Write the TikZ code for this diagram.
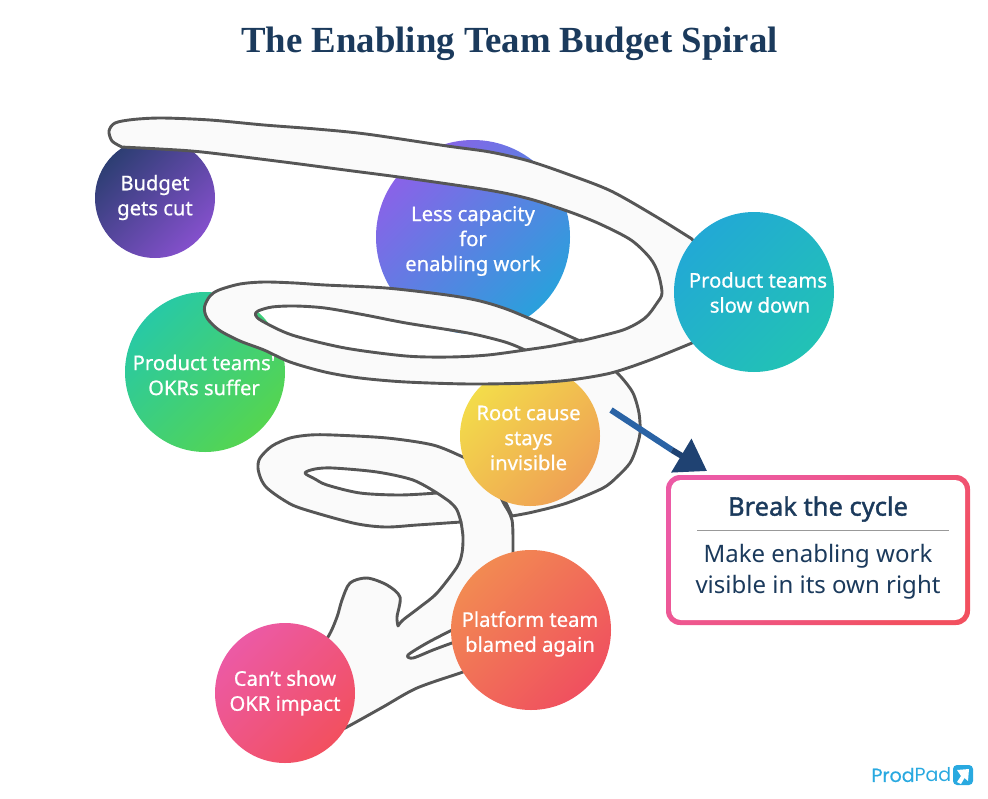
\documentclass[tikz,border=0pt]{standalone}
\usepackage{fontspec}
\setmainfont{Noto Sans}
\newfontfamily\titlefont{Liberation Serif}
\newfontfamily\logofont{Poppins}
\newfontfamily\logoheavy[FakeBold=0.5]{Poppins}
\newfontfamily\nodefont[FakeBold=0.7]{Noto Sans}
\newfontfamily\headfont[FakeBold=1.6]{Noto Sans}
\usetikzlibrary{arrows.meta}
\definecolor{ribbonfill}{HTML}{FAFAFA}
\definecolor{ribbonline}{HTML}{565656}
\definecolor{titleblue}{HTML}{1B3A5C}
\definecolor{logoblue}{HTML}{29A9E0}
\definecolor{budgetstart}{HTML}{2D3E73}
\definecolor{budgetend}{HTML}{8450CC}
\definecolor{capstart}{HTML}{8A62E8}
\definecolor{capend}{HTML}{2AA0DC}
\definecolor{okrstart}{HTML}{28C9A5}
\definecolor{okrend}{HTML}{55D550}
\definecolor{rootstart}{HTML}{F3DC4A}
\definecolor{rootend}{HTML}{EFA055}
\definecolor{platstart}{HTML}{F28A52}
\definecolor{platend}{HTML}{F0505F}
\definecolor{boxstart}{HTML}{EC5AA5}
\definecolor{boxend}{HTML}{F2505F}
\definecolor{slowstart}{HTML}{22A9D5}
\definecolor{slowend}{HTML}{22C2B5}
\definecolor{arrowstartcol}{HTML}{2A63A5}
\definecolor{arrowendcol}{HTML}{1F4272}
\tikzset{
	spiralnode/.style={circle,inner sep=0pt},
	spiraltext/.style={inner sep=0pt,text=white,align=center,
	font=\nodefont\fontsize{20.2}{25}\selectfont},
	ribbon/.style={fill=ribbonfill,draw=ribbonline,line width=2.9pt,line join=round,even odd rule},
	ribbonedge/.style={draw=ribbonline,line width=2.9pt,line cap=round}
}
\begin{document}
\begin{tikzpicture}[x=1pt,y=-1pt]
	\useasboundingbox (0,0) rectangle (988,798);
	\node[font=\titlefont\bfseries\fontsize{36.8}{40}\selectfont,text=titleblue] (title) at (509.5,43.5) {The Enabling Team Budget Spiral};
	\node[spiralnode,minimum size=120pt,left color=budgetstart,right color=budgetend,shading angle=45] (budget) at (155,198) {};
	\node[spiraltext] (budgettext) at (155,197.5) {Budget\\gets cut};
	\node[spiralnode,minimum size=194pt,left color=capstart,right color=capend,shading angle=45] (capacity) at (473,237) {};
	\node[spiraltext] (capacitytext) at (473,241) {Less capacity\\for\\enabling work};
	\node[spiralnode,minimum size=160pt,left color=okrstart,right color=okrend,shading angle=45] (okrs) at (205,372) {};
	\node[spiraltext] (okrstext) at (204,375) {Product teams'\\OKRs suffer};
	\path[ribbon] plot[smooth] coordinates {(612,368) (622,378) (633,393) (639,413) (640,433) (636,449) (630,463) (618,476) (603,488) (567,503) (533,512) (512,516)}
	-- (500,490) -- (530,400) -- (530,370) -- (590,360) -- cycle;
	\path[ribbon] plot[smooth] coordinates {(480,465) (463,457) (433,445) (387,438) (333,435) (310,435) (290,438) (272,446) (260,458) (258,468) (261,479) (267,488) (282,499) (300,508) (353,523) (385,527) (417,525) (461,522)}
	-- plot[smooth] coordinates {(461,522) (463,537) (462,553) (457,567) (437,593) (420,607) (403,620) (398,626)}
	-- plot[smooth] coordinates {(398,626) (397,617) (400,597) (387,585) (367,578) (350,583) (342,600) (337,617) (328,637) (310,660)}
	-- plot[smooth] coordinates {(330,735) (347,727) (383,707) (417,688) (463,672) (480,665)}
	-- plot[smooth] coordinates {(513,575) (513,552) (512,520) (503,502) (495,485)} -- cycle
	plot[smooth] coordinates {(437,493) (413,480) (377,472) (333,468) (315,469) (305,473) (315,479) (327,485) (360,493) (400,495) (437,493)} -- cycle
	plot[smooth] coordinates {(460,626) (452,630) (427,643) (408,655) (413,658) (433,650) (452,643) (460,641)} -- cycle;
	\draw[ribbonedge] plot[smooth] coordinates {(437,493) (450,502) (457,510) (461,522)};
	\node[spiralnode,minimum size=140pt,left color=rootstart,right color=rootend,shading angle=45] (rootcause) at (530,436) {};
	\node[spiraltext] (rootcausetext) at (528.5,438) {Root cause\\stays\\invisible};
	\node[spiralnode,minimum size=160pt,left color=platstart,right color=platend,shading angle=45] (platform) at (531,630) {};
	\node[spiraltext] (platformtext) at (530,634) {Platform team\\blamed again};
	\node[spiralnode,minimum size=140pt,left color=boxstart,right color=boxend,shading angle=45] (impact) at (285,693) {};
	\node[spiraltext] (impacttext) at (285,693) {Can’t show\\OKR impact};
	\path[ribbon] plot[smooth] coordinates {(121,146.5) (112,141) (109,131) (115,123) (133,119.5) (162,118) (210,120) (264,125) (316,129) (366,134) (447,146) (490,152) (529,161) (570,175) (611,191) (655,216) (692,239)}
	-- (725,290)
	-- plot[smooth] coordinates {(692,343) (650,360) (611,373) (570,380) (529,383) (470,384) (406,382) (360,378) (325,372) (290,362) (264,350) (240,341) (219,330) (207,318) (204.5,307) (210,296) (219,290) (240,284) (264,282) (295,283) (325,285) (386,288) (447,295) (480,301) (509,310) (549,327) (580,341)}
	-- plot[smooth] coordinates {(580,341) (623,330) (645,318) (657,303) (662,293) (658,273) (650,258) (631,240) (600,224) (570,212) (530,199) (488,190) (406,178) (345,170) (284,162) (202,152) (160,149) (121,147)} -- cycle
	plot[smooth] coordinates {(525,350) (505,342) (468,333) (406,323) (365,315) (325,308) (295,306) (272,307) (258,311) (255.5,315) (262,321) (292,335) (345,348) (406,356) (450,357) (488,355) (525,350)} -- cycle;
	\draw[ribbonedge] plot[smooth] coordinates {(525,350) (552,346) (582,340)};
	\node[spiralnode,minimum size=160pt,left color=slowstart,right color=slowend,shading angle=45] (slowdown) at (754,292) {};
	\node[spiraltext] (slowdowntext) at (758,292.5) {Product teams\\\hspace*{4pt}slow down};
	\coordinate (arrowstart) at (611,410);
	\coordinate (arrowmid) at (672,450);
	\coordinate (arrowtip) at (707,471);
	\draw[line width=6pt,draw=arrowstartcol] (arrowstart) -- (arrowmid);
	\draw[line width=6pt,draw=arrowendcol,-{Triangle[length=30pt,width=38pt]}] (arrowmid) -- (arrowtip);
	\shade[left color=boxstart,right color=boxend,shading angle=45,rounded corners=14pt] (666,475) rectangle (970,625);
	\node[fill=white,rounded corners=10pt,minimum width=294pt,minimum height=140pt,inner sep=0pt] (breakbox) at (818,550) {};
	\node[text=titleblue,font=\headfont\fontsize{25.5}{30}\selectfont] (breakhead) at (818,509) {Break the cycle};
	\coordinate (ruleleft) at (697,530);
	\coordinate (ruleright) at (949,530);
	\draw[draw=black!40,line width=0.8pt] (ruleleft) -- (ruleright);
	\node[text=titleblue,align=center,font=\fontsize{24}{31}\selectfont] (breakbody) at (818,571.5) {Make enabling work\\visible in its own right};
	\node[text=logoblue,font=\fontsize{19}{24}\selectfont,anchor=east,inner sep=0pt] (logotext) at (951.5,775) {{\logoheavy Prod}{\logofont Pad}};
	\node[fill=logoblue,rounded corners=4pt,minimum size=20pt,inner sep=0pt] (logoicon) at (963,775) {};
	\fill[white] (957,770) -- (969,769) -- (968,781) -- (964.5,778) -- (961,784) -- (957,782) -- (961,776) -- cycle;
\end{tikzpicture}
\end{document}
